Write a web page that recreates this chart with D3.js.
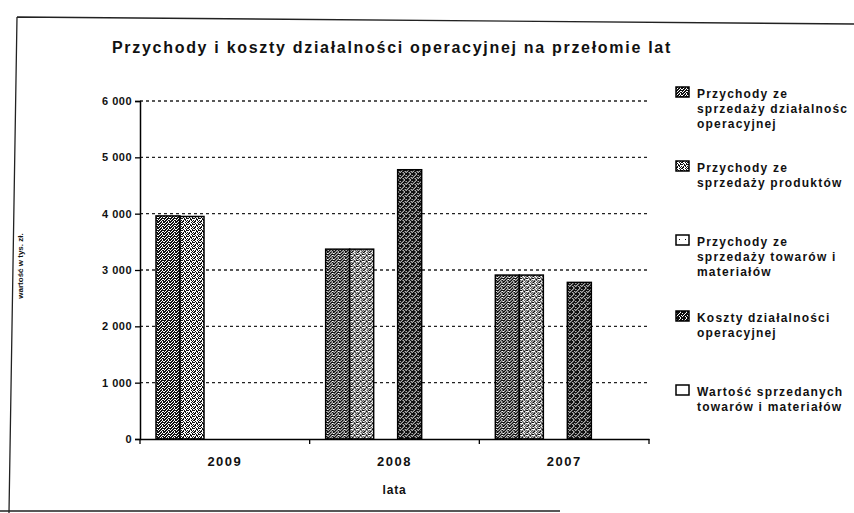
<!DOCTYPE html>
<html>
<head>
<meta charset="utf-8">
<script src="https://cdn.jsdelivr.net/npm/d3@7"></script>
<style>
  body { margin: 0; background: #fff; }
  svg { display: block; font-family: "Liberation Sans", Arial, sans-serif; }
  .tick text { font-weight: bold; }
</style>
</head>
<body>
<svg id="chart" width="854" height="513"></svg>
<script>
// values (tys. zł)
const categories = ["2009", "2008", "2007"];
const seriesNames = [
  "Przychody ze sprzedaży działalności operacyjnej",
  "Przychody ze sprzedaży produktów",
  "Przychody ze sprzedaży towarów i materiałów",
  "Koszty działalności operacyjnej",
  "Wartość sprzedanych towarów i materiałów"
];
const przychodyDzialalnosci = [3960, 3370, 2910];
const przychodyProduktow = [3950, 3370, 2910];
const przychodyTowarow = [0, 0, 0];
const kosztyDzialalnosci = [0, 4780, 2780];
const wartoscSprzedanych = [0, 0, 0];
const yTicks = [0, 1000, 2000, 3000, 4000, 5000, 6000];
const legendLines = [
  ["Przychody ze", "sprzedaży działalnośc", "operacyjnej"],
  ["Przychody ze", "sprzedaży produktów"],
  ["Przychody ze", "sprzedaży towarów i", "materiałów"],
  ["Koszty działalności", "operacyjnej"],
  ["Wartość sprzedanych", "towarów i materiałów"]
];

const seriesValues = [przychodyDzialalnosci, przychodyProduktow, przychodyTowarow,
  kosztyDzialalnosci, wartoscSprzedanych];

const svg = d3.select('#chart');

// speckle tiles, 1 = black pixel
const tiles = [
  ["101101", "011010", "110111", "101100", "011011", "110101"],
  ["100101", "010010", "101011", "001100", "010101", "110010"],
  ["000000", "000000", "000000", "000100", "000000", "000000"],
  ["111101", "011011", "110111", "101110", "011011", "111101"],
  ["000000", "000000", "000000", "000000", "000000", "000000"]
];
const defs = svg.append('defs');
tiles.forEach((rows, i) => {
  const p = defs.append('pattern')
    .attr('id', 'pat' + i)
    .attr('patternUnits', 'userSpaceOnUse')
    .attr('width', 6)
    .attr('height', 6);
  p.append('rect').attr('width', 6).attr('height', 6).attr('fill', '#fff');
  rows.forEach((row, r) => {
    row.split('').forEach((c, k) => {
      if (c === '1') p.append('rect').attr('x', k).attr('y', r).attr('width', 1).attr('height', 1).attr('fill', '#111');
    });
  });
});

// outer frame of the scanned page
svg.append('path')
  .attr('d', 'M17,17 L854,24 M17,17 L9,513 M0,511 L560,511')
  .attr('fill', 'none')
  .attr('stroke', '#222')
  .attr('stroke-width', 1.3);

const plot = { left: 140, right: 649, top: 101, bottom: 439 };

const x0 = d3.scaleBand()
  .domain(categories)
  .range([plot.left, plot.right])
  .padding(0);

const x1 = d3.scaleBand()
  .domain(d3.range(seriesNames.length))
  .range([16, 16 + 24 * seriesNames.length])
  .padding(0);

const y = d3.scaleLinear()
  .domain([0, 6000])
  .range([plot.bottom, plot.top]);

const fmt = v => d3.format(',')(v).replace(/,/g, ' ');

// grid lines
svg.append('g')
  .selectAll('line')
  .data(yTicks.filter(v => v > 0))
  .enter()
  .append('line')
  .attr('x1', plot.left)
  .attr('x2', plot.right)
  .attr('y1', d => y(d))
  .attr('y2', d => y(d))
  .attr('stroke', '#222')
  .attr('stroke-width', 1.3)
  .attr('stroke-dasharray', '3,3');

// bars
const groups = svg.append('g')
  .selectAll('g')
  .data(categories)
  .enter()
  .append('g')
  .attr('transform', d => `translate(${x0(d)},0)`);

groups.selectAll('rect')
  .data((d, ci) => seriesValues.map((vals, si) => ({ si, v: vals[ci] })).filter(e => e.v > 0))
  .enter()
  .append('rect')
  .attr('x', e => x1(e.si))
  .attr('width', x1.bandwidth())
  .attr('y', e => y(e.v))
  .attr('height', e => y(0) - y(e.v))
  .attr('fill', e => `url(#pat${e.si})`)
  .attr('stroke', '#000')
  .attr('stroke-width', 1.5);

// y axis
const yAxis = svg.append('g')
  .attr('transform', `translate(${plot.left},0)`)
  .call(d3.axisLeft(y).tickValues(yTicks).tickFormat(fmt).tickSize(5).tickPadding(3));
yAxis.select('.domain').attr('stroke', '#000').attr('stroke-width', 1.5);
yAxis.selectAll('.tick line').attr('stroke', '#000').attr('stroke-width', 1.3);
yAxis.selectAll('.tick text').attr('font-size', 11).attr('letter-spacing', 0.5).attr('fill', '#111');

// x axis
const xAxis = svg.append('g')
  .attr('transform', `translate(0,${plot.bottom})`)
  .call(d3.axisBottom(x0).tickSize(0).tickPadding(18));
xAxis.select('.domain').attr('stroke', '#000').attr('stroke-width', 1.5);
xAxis.selectAll('.tick text')
  .attr('font-size', 13)
  .attr('letter-spacing', 1.5)
  .attr('fill', '#111');
xAxis.selectAll('.sep')
  .data(categories.map(c => x0(c)).concat([plot.right]))
  .enter()
  .append('line')
  .attr('x1', d => d)
  .attr('x2', d => d)
  .attr('y1', 0)
  .attr('y2', 5)
  .attr('stroke', '#000')
  .attr('stroke-width', 1.3);

// titles
svg.append('text')
  .attr('x', 112)
  .attr('y', 53)
  .attr('font-size', 16)
  .attr('font-weight', 'bold')
  .attr('letter-spacing', 1.7)
  .attr('fill', '#111')
  .text('Przychody i koszty działalności operacyjnej na przełomie lat');

svg.append('text')
  .attr('x', (plot.left + plot.right) / 2)
  .attr('y', 494)
  .attr('text-anchor', 'middle')
  .attr('font-size', 12)
  .attr('font-weight', 'bold')
  .attr('letter-spacing', 0.8)
  .attr('fill', '#111')
  .text('lata');

svg.append('text')
  .attr('transform', 'translate(23,266) rotate(-90)')
  .attr('text-anchor', 'middle')
  .attr('font-size', 8)
  .attr('font-weight', 'bold')
  .attr('fill', '#111')
  .text('wartość w tys. zł.');

// legend
const legendY = [94, 168, 242, 318, 392];
const legend = svg.append('g')
  .selectAll('g')
  .data(legendLines)
  .enter()
  .append('g')
  .attr('transform', (d, i) => `translate(676,${legendY[i]})`);

legend.append('rect')
  .attr('x', 0)
  .attr('y', -7)
  .attr('width', 13)
  .attr('height', 10)
  .attr('fill', (d, i) => `url(#pat${i})`)
  .attr('stroke', '#000')
  .attr('stroke-width', 1.5);

legend.append('text')
  .attr('x', 21)
  .attr('y', 4)
  .attr('font-size', 12)
  .attr('font-weight', 'bold')
  .attr('letter-spacing', 1.2)
  .attr('fill', '#111')
  .selectAll('tspan')
  .data(d => d)
  .enter()
  .append('tspan')
  .attr('x', 21)
  .attr('dy', (d, i) => i === 0 ? 0 : 15)
  .text(d => d);
</script>
</body>
</html>
